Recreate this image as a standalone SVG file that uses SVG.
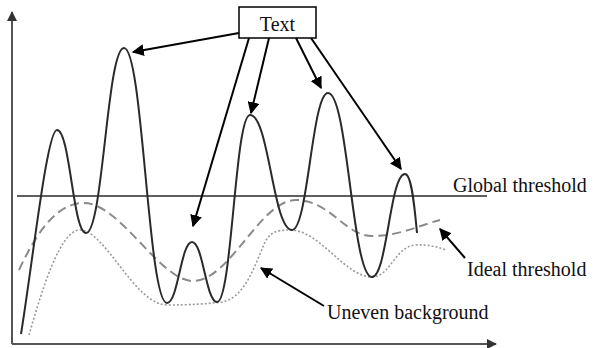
<svg xmlns="http://www.w3.org/2000/svg" width="594" height="348" viewBox="0 0 594 348">
  <style>
    .lbl { font-family: "Liberation Serif", "Times New Roman", serif; font-size: 20px; fill: #111; }
    .axis { stroke: #555; stroke-width: 2; fill: none; }
    .signal { stroke: #2a2a2a; stroke-width: 2; fill: none; }
    .ideal { stroke: #8a8a8a; stroke-width: 2; fill: none; stroke-dasharray: 9 5; }
    .bg { stroke: #9a9a9a; stroke-width: 1.6; fill: none; stroke-dasharray: 2 2; }
    .conn { stroke: #000; stroke-width: 2; fill: none; marker-end: url(#ah); }
  </style>
  <defs>
    <marker id="ah" viewBox="0 0 10 10" refX="9" refY="5" markerWidth="6" markerHeight="6" markerUnits="strokeWidth" orient="auto">
      <path d="M0,0 L10,5 L0,10 z" fill="#000"/>
    </marker>
    <marker id="axh" viewBox="0 0 10 10" refX="9" refY="5" markerWidth="5" markerHeight="5" markerUnits="strokeWidth" orient="auto">
      <path d="M0,0 L10,5 L0,10 z" fill="#333"/>
    </marker>
  </defs>

  <g id="axes">
    <path class="axis" d="M12,344 L12,12" marker-end="url(#axh)"/>
    <path class="axis" d="M12,344 L496,344" marker-end="url(#axh)"/>
  </g>

  <g id="global-threshold">
    <line x1="17" y1="196" x2="487" y2="196" stroke="#2a2a2a" stroke-width="1.6"/>
    <text class="lbl" x="453" y="192">Global threshold</text>
  </g>

  <g id="uneven-background">
    <path class="bg" d="M29,335 C42,290 60,230 80,230 C105,230 135,305 167,305 C190,305 205,304 222,302 C245,298 255,265 265,242 C270,233 275,230 290,230 C320,230 345,277 372,277 C390,277 395,247 415,245 C430,244 440,248 446,250"/>
    <text class="lbl" x="327" y="319">Uneven background</text>
  </g>

  <g id="ideal-threshold">
    <path class="ideal" d="M19,270 C40,225 60,203 84,203 C120,203 160,281 193,281 C230,281 260,200 296,200 C330,200 345,236 372,236 C400,236 420,225 440,220"/>
    <text class="lbl" x="467" y="276">Ideal threshold</text>
  </g>

  <g id="signal">
    <path class="signal" d="M21,334 C33,260 47,130 57,130 C70,130 73,233 86,233 C103,233 107,48 124,48 C143,48 148,303 167,303 C178,303 181,242 192,242 C203,242 206,302 217,302 C232,302 235,115 250,115 C269,115 273,230 292,230 C308,230 312,93 328,93 C348,93 352,277 372,277 C387,277 390,174 405,174 C411,174 414,200 417,233"/>
  </g>

  <g id="text-box">
    <rect x="239" y="7" width="77" height="31" fill="#fff" stroke="#000" stroke-width="1.5"/>
    <text class="lbl" x="277.5" y="31" text-anchor="middle">Text</text>
  </g>

  <g id="connectors">
    <path class="conn" d="M239,33 L133,52"/>
    <path class="conn" d="M249,38 L193,226"/>
    <path class="conn" d="M269,38 L251,113"/>
    <path class="conn" d="M296,38 L321,88"/>
    <path class="conn" d="M311,38 L401,169"/>
    <path class="conn" d="M465,258 L440,229"/>
    <path class="conn" d="M324,306 L261,268"/>
  </g>
</svg>
